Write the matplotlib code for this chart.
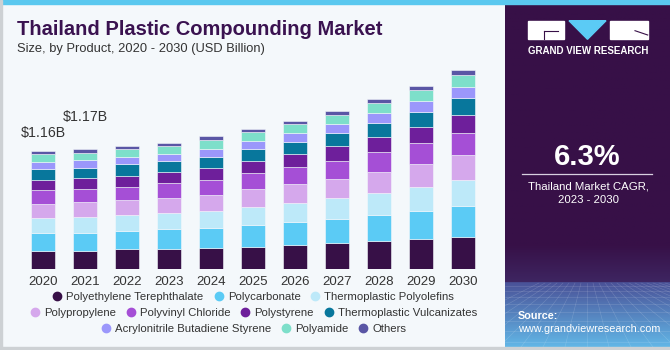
import numpy as np
import matplotlib.pyplot as plt
from matplotlib.lines import Line2D
from matplotlib.patches import Rectangle, Polygon

plt.rcParams['font.family'] = ['Liberation Sans', 'DejaVu Sans']

# market size by product, USD billion
years = ['2020', '2021', '2022', '2023', '2024', '2025', '2026', '2027', '2028', '2029', '2030']
pet = [0.183, 0.183, 0.196, 0.203, 0.213, 0.223, 0.238, 0.258, 0.275, 0.294, 0.321]
pc = [0.174, 0.176, 0.179, 0.189, 0.196, 0.213, 0.223, 0.235, 0.258, 0.277, 0.301]
tpo = [0.147, 0.154, 0.160, 0.164, 0.167, 0.179, 0.193, 0.209, 0.219, 0.238, 0.255]
pp = [0.140, 0.147, 0.144, 0.147, 0.157, 0.174, 0.183, 0.189, 0.206, 0.225, 0.242]
pvc = [0.134, 0.127, 0.130, 0.147, 0.147, 0.160, 0.170, 0.176, 0.189, 0.206, 0.223]
ps = [0.101, 0.105, 0.111, 0.108, 0.118, 0.118, 0.127, 0.140, 0.154, 0.160, 0.176]
tpv = [0.101, 0.105, 0.111, 0.101, 0.105, 0.111, 0.118, 0.127, 0.134, 0.144, 0.160]
abs_ = [0.072, 0.078, 0.072, 0.075, 0.081, 0.085, 0.088, 0.095, 0.101, 0.108, 0.115]
pa = [0.075, 0.069, 0.078, 0.078, 0.085, 0.081, 0.081, 0.088, 0.095, 0.105, 0.115]
others = [0.029, 0.032, 0.032, 0.032, 0.036, 0.029, 0.032, 0.036, 0.039, 0.046, 0.046]

series = [pet, pc, tpo, pp, pvc, ps, tpv, abs_, pa, others]
names = ['Polyethylene Terephthalate', 'Polycarbonate', 'Thermoplastic Polyolefins',
         'Polypropylene', 'Polyvinyl Chloride', 'Polystyrene', 'Thermoplastic Vulcanizates',
         'Acrylonitrile Butadiene Styrene', 'Polyamide', 'Others']
colors = ['#371047', '#5bcbf5', '#bde9f9', '#d5a8ec', '#a54fd6',
          '#6e1f9b', '#08779c', '#9b97fb', '#7ddfca', '#5a56a5']
labels = {0: '$1.16B', 1: '$1.17B'}

W, H = 670, 350
bg = '#f4f8fb'


def box(x0, y0, x1, y1):
    # pixel box (from top-left) -> figure fraction rect
    return [x0 / W, 1 - y1 / H, (x1 - x0) / W, (y1 - y0) / H]


def px(xp, yp):
    return (xp / W, 1 - yp / H)


fig = plt.figure(figsize=(6.7, 3.5), dpi=100)
fig.patch.set_facecolor(bg)

# stacked bars
ax = fig.add_axes(box(22, 55.3, 484, 269.3))
ax.set_facecolor(bg)
x = np.arange(len(years))
bottom = np.zeros(len(years))
for vals, c, n in zip(series, colors, names):
    ax.bar(x, vals, width=0.57, bottom=bottom, color=c, edgecolor=bg, linewidth=0.4, label=n)
    bottom += np.array(vals)

ax.set_xlim(-0.5, len(years) - 0.5)
ax.set_ylim(0, 2.1)
ax.set_xticks(x, years)
ax.tick_params(axis='x', length=0, pad=5, labelsize=9.5, labelcolor='#333333')
ax.set_yticks([])
for s in ax.spines.values():
    s.set_visible(False)

offs = {0: 10.3, 1: 20.4}
for i, txt in labels.items():
    ax.annotate(txt.replace('$', r'\$'), xy=(i, bottom[i]), xytext=(0, offs[i]),
                textcoords='offset points', ha='center', va='baseline',
                fontsize=10.2, color='#333333')

# titles
fig.text(17 / W, 1 - 35 / H, 'Thailand Plastic Compounding Market', fontsize=14.5,
         fontweight='heavy', color='#3a1250', ha='left', va='baseline')
fig.text(17 / W, 1 - 52 / H, 'Size, by Product, 2020 - 2030 (USD Billion)', fontsize=9.3,
         color='#333333', ha='left', va='baseline')

# legend in three centred rows
rows = [[0, 1, 2], [3, 4, 5, 6], [7, 8, 9]]
row_y = [297, 313, 329]
for r, yy in zip(rows, row_y):
    hs = [Line2D([], [], marker='o', ls='', markersize=6, color=colors[k]) for k in r]
    fig.legend(hs, [names[k] for k in r], loc='center', bbox_to_anchor=(253 / W, 1 - yy / H),
               ncol=len(r), frameon=False, fontsize=8.2, handletextpad=0.3,
               columnspacing=0.8, handlelength=1.0, borderpad=0, labelcolor='#333333')

# right panel
pax = fig.add_axes(box(505, 0, 670, 347))
ys = np.linspace(0, 1, 300)
top_c = np.array([0x37, 0x10, 0x47]) / 255
mid_c = np.array([0x3e, 0x26, 0x62]) / 255
low_c = np.array([0x4a, 0x52, 0x98]) / 255
bot_c = np.array([0x62, 0xb6, 0xe6]) / 255
grad = []
for t in ys:
    yp = t * 347
    if yp < 245:
        c = top_c
    elif yp < 283:
        f = (yp - 245) / 38
        c = top_c * (1 - f) + mid_c * f
    else:
        f = (yp - 283) / 64
        c = low_c * (1 - f) + bot_c * f
    grad.append(c)
grad = np.array(grad)[:, None, :]
pax.imshow(grad, aspect='auto', extent=(0, 165, 347, 0))
# faint mesh at the bottom
for k in range(-8, 16):
    pax.plot([82 + k * 6, 82 + k * 22], [283, 347], color='white', lw=0.4, alpha=0.18)
for yy in [286, 291, 297, 304, 312, 321, 331, 342]:
    pax.plot([0, 165], [yy, yy], color='white', lw=0.4, alpha=0.18)
pax.set_xlim(0, 165)
pax.set_ylim(347, 0)
pax.axis('off')

# logo
fig.add_artist(Rectangle(px(527.7, 39.3), 36.3 / W, 18.6 / H, transform=fig.transFigure, color='white'))
fig.add_artist(Rectangle(px(610, 39.3), 37.7 / W, 18.6 / H, transform=fig.transFigure, color='white'))
fig.add_artist(Polygon([px(569, 20.7), px(606, 20.7), px(587.5, 39.3)], transform=fig.transFigure,
                       color='#5bcbf5'))
fig.add_artist(Line2D([544 / W, 558 / W], [1 - 30.7 / H, 1 - 30.7 / H], transform=fig.transFigure,
                      color='#371047', lw=0.8))
fig.add_artist(Line2D([544 / W, 544 / W], [1 - 30.7 / H, 1 - 39.3 / H], transform=fig.transFigure,
                      color='#371047', lw=0.8))
fig.add_artist(Line2D([635 / W, 647.7 / W], [1 - 30.7 / H, 1 - 35 / H], transform=fig.transFigure,
                      color='#371047', lw=0.8))
fig.text(587.7 / W, 1 - 54 / H, 'GRAND VIEW RESEARCH', fontsize=7.0, fontweight='bold',
         color='white', ha='center', va='baseline')

fig.text(587 / W, 1 - 165 / H, '6.3%', fontsize=21, fontweight='bold', color='white',
         ha='center', va='baseline')
fig.add_artist(Line2D([522 / W, 652 / W], [1 - 173.5 / H, 1 - 173.5 / H], transform=fig.transFigure,
                      color='#d8d0e0', lw=0.9))
fig.text(588 / W, 1 - 190 / H, 'Thailand Market CAGR,', fontsize=8.2, color='white',
         ha='center', va='baseline')
fig.text(588 / W, 1 - 203.3 / H, '2023 - 2030', fontsize=8.2, color='white',
         ha='center', va='baseline')
fig.text(518 / W, 1 - 319.3 / H, 'Source:', fontsize=7.8, fontweight='bold', color='white',
         ha='left', va='baseline')
fig.text(518 / W, 1 - 332 / H, 'www.grandviewresearch.com', fontsize=7.8, color='white',
         ha='left', va='baseline')

# top strip and frame
fig.add_artist(Rectangle((0, 1 - 4 / H), 1, 4 / H, transform=fig.transFigure, color='#5ac8ef'))
fig.add_artist(Rectangle((0, 0), 1, 3 / H, transform=fig.transFigure, color='#cdd1d4'))
fig.add_artist(Rectangle((0, 0), 1.5 / W, 1, transform=fig.transFigure, color='#cdd1d4'))

fig.savefig('out.png', dpi=100, facecolor=fig.get_facecolor())
